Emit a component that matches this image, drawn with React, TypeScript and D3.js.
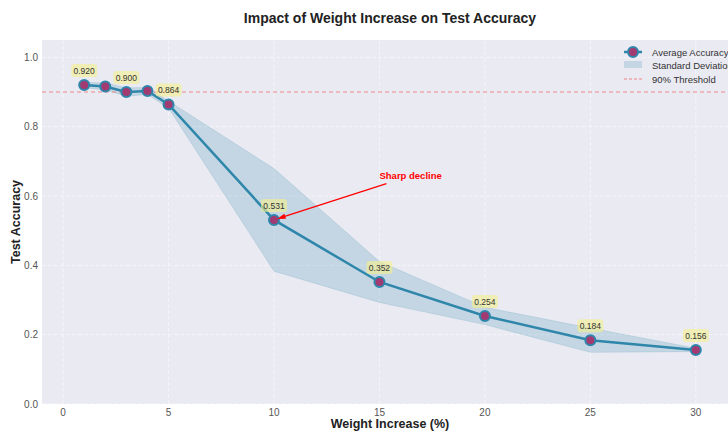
import React, { useEffect } from "react";
import * as d3 from "d3";

// weight increase (%) and measured accuracy
const weightIncrease = [1, 2, 3, 4, 5, 10, 15, 20, 25, 30];
const avgAccuracy = [0.92, 0.916, 0.9, 0.903, 0.864, 0.531, 0.352, 0.254, 0.184, 0.156];
const stdAccuracy = [0.008, 0.01, 0.012, 0.01, 0.01, 0.148, 0.059, 0.025, 0.035, 0.005];
const labelledPoints = [1, 3, 5, 10, 15, 20, 25, 30];
const xTicks = [0, 5, 10, 15, 20, 25, 30];
const yTicks = [0, 0.2, 0.4, 0.6, 0.8, 1.0];
const threshold = 0.9;

const W = 728;
const H = 432;
const margin = { top: 40, left: 42, right: -10, bottom: 28 };
const font = "'Liberation Sans', Arial, sans-serif";

export default function App() {
  useEffect(() => {
    document.body.style.margin = "0";
  }, []);

  const x = d3.scaleLinear().domain([-1, 32]).range([margin.left, W - margin.right]);
  const y = d3.scaleLinear().domain([0, 1.05]).range([H - margin.bottom, margin.top]);

  const rows = weightIncrease.map((w, i) => ({ w, m: avgAccuracy[i], s: stdAccuracy[i] }));

  const line = d3
    .line<any>()
    .x((d) => x(d.w))
    .y((d) => y(d.m));
  const band = d3
    .area<any>()
    .x((d) => x(d.w))
    .y0((d) => y(d.m - d.s))
    .y1((d) => y(d.m + d.s));

  const blue = "#2E86AB";
  const magenta = "#A23B72";

  // annotation
  const target = rows[5];
  const textX = x(15);
  const textY = y(0.65);
  const arrowStart = [textX + 7, textY + 5];
  const arrowEnd = [x(target.w) + 3, y(target.m) - 1];
  const ang = Math.atan2(arrowEnd[1] - arrowStart[1], arrowEnd[0] - arrowStart[0]);
  const head = 9;

  const plotW = W - margin.right - margin.left;
  const plotH = H - margin.bottom - margin.top;

  return (
    <svg width={W} height={H} style={{ display: "block" }} fontFamily={font}>
      <rect width={W} height={H} fill="#fff" />
      <rect x={margin.left} y={margin.top} width={plotW} height={plotH} fill="#EAEAF2" />

      {/* grid */}
      {xTicks.map((t) => (
        <line key={"gx" + t} x1={x(t)} x2={x(t)} y1={margin.top} y2={H - margin.bottom}
          stroke="#fff" strokeWidth={1} strokeDasharray="4,2" opacity={0.5} />
      ))}
      {yTicks.map((t) => (
        <line key={"gy" + t} x1={margin.left} x2={W} y1={y(t)} y2={y(t)}
          stroke="#fff" strokeWidth={1} strokeDasharray="4,2" opacity={0.5} />
      ))}

      {/* std band */}
      <path d={band(rows) ?? ""} fill={blue} fillOpacity={0.2} stroke={blue} strokeOpacity={0.15} />

      {/* threshold */}
      <line x1={margin.left} x2={W} y1={y(threshold)} y2={y(threshold)}
        stroke="#f08080" strokeWidth={1.2} strokeDasharray="4,3" opacity={0.9} />

      {/* line + markers */}
      <path d={line(rows) ?? ""} fill="none" stroke={blue} strokeWidth={2.5} />
      {rows.map((d) => (
        <circle key={"p" + d.w} cx={x(d.w)} cy={y(d.m)} r={5} fill={magenta} stroke={blue} strokeWidth={2} />
      ))}

      {/* value labels */}
      {rows.filter((d) => labelledPoints.includes(d.w)).map((d) => {
        const cx = x(d.w);
        const cy = y(d.m) - 14;
        return (
          <g key={"l" + d.w}>
            <rect x={cx - 13} y={cy - 7} width={26} height={13} rx={3}
              fill="#f3f08a" fillOpacity={0.6} />
            <text x={cx} y={cy + 3} textAnchor="middle" fontSize={8.5} fill="#333">
              {d.m.toFixed(3)}
            </text>
          </g>
        );
      })}

      {/* annotation */}
      <text x={textX} y={textY} fontSize={9.5} fontWeight="bold" fill="red">Sharp decline</text>
      <line x1={arrowStart[0]} y1={arrowStart[1]} x2={arrowEnd[0] - Math.cos(ang) * 4} y2={arrowEnd[1] - Math.sin(ang) * 4}
        stroke="red" strokeWidth={1.3} />
      <path
        d={`M${arrowEnd[0]},${arrowEnd[1]} L${arrowEnd[0] - head * Math.cos(ang - 0.3)},${arrowEnd[1] - head * Math.sin(ang - 0.3)} L${arrowEnd[0] - head * Math.cos(ang + 0.3)},${arrowEnd[1] - head * Math.sin(ang + 0.3)} Z`}
        fill="red"
      />

      {/* ticks */}
      {xTicks.map((t) => (
        <text key={"tx" + t} x={x(t)} y={H - margin.bottom + 12} textAnchor="middle" fontSize={10} fill="#555">
          {t}
        </text>
      ))}
      {yTicks.map((t) => (
        <text key={"ty" + t} x={margin.left - 4} y={y(t) + 3.5} textAnchor="end" fontSize={10} fill="#555">
          {t.toFixed(1)}
        </text>
      ))}

      {/* axis titles */}
      <text x={margin.left + plotW / 2} y={H - 4} textAnchor="middle" fontSize={12.5} fontWeight="bold" fill="#222">
        Weight Increase (%)
      </text>
      <text transform={`translate(20,${margin.top + plotH / 2}) rotate(-90)`} textAnchor="middle"
        fontSize={12.5} fontWeight="bold" fill="#222">
        Test Accuracy
      </text>
      <text x={margin.left + plotW / 2} y={23} textAnchor="middle" fontSize={14} fontWeight="bold" fill="#222">
        Impact of Weight Increase on Test Accuracy
      </text>

      {/* legend */}
      <g transform="translate(624,52)">
        <line x1={0} x2={18} y1={0} y2={0} stroke={blue} strokeWidth={2.5} />
        <circle cx={9} cy={0} r={5} fill={magenta} stroke={blue} strokeWidth={2} />
        <text x={28} y={3.5} fontSize={9.5} fill="#333">Average Accuracy</text>
        <rect x={0} y={9} width={18} height={7} fill={blue} fillOpacity={0.2} />
        <text x={28} y={17} fontSize={9.5} fill="#333">Standard Deviation</text>
        <line x1={0} x2={18} y1={27} y2={27} stroke="#f08080" strokeWidth={1} strokeDasharray="3,2" />
        <text x={28} y={30.5} fontSize={9.5} fill="#333">90% Threshold</text>
      </g>
    </svg>
  );
}
